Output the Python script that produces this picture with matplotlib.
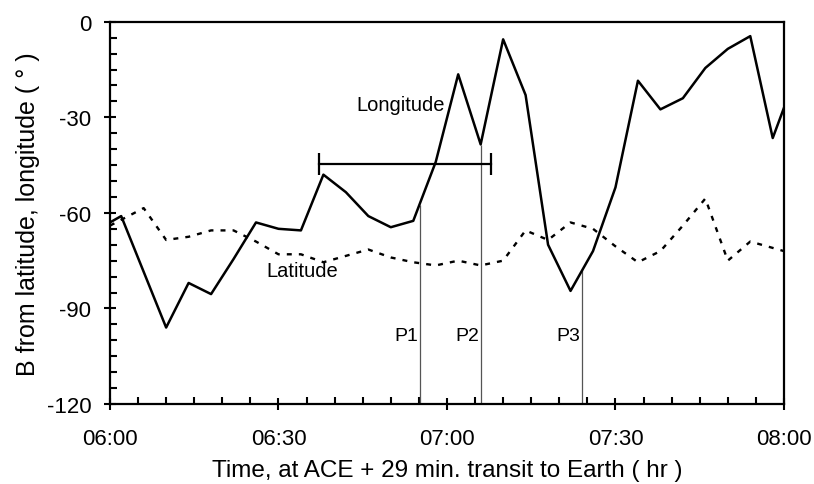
import matplotlib
matplotlib.use("Agg")
import matplotlib.pyplot as plt
from matplotlib.ticker import MultipleLocator, FixedLocator

plt.rcParams['font.family'] = ['Liberation Sans', 'DejaVu Sans']
plt.rcParams['axes.unicode_minus'] = False

# minutes after 06:00
lon_t = [0, 2, 10, 14, 18, 22, 26, 30, 34, 38, 42, 46, 50, 54, 58, 62, 66, 70,
         74, 78, 82, 86, 90, 94, 98, 102, 106, 110, 114, 118, 120]
lon_v = [-63, -61, -96, -82, -85.5, -74.5, -63, -65, -65.5, -48, -53.5, -61,
         -64.5, -62.5, -44, -16.5, -38.5, -5.5, -23, -70, -84.5, -72, -52,
         -18.5, -27.5, -24, -14.5, -8.5, -4.5, -36.5, -27]

lat_t = [0, 6, 10, 14, 18, 22, 26, 30, 34, 38, 42, 46, 50, 54, 58, 62, 66, 70,
         74, 78, 82, 86, 90, 94, 98, 102, 106, 110, 114, 118, 120]
lat_v = [-64, -58.5, -68.5, -67.5, -65.5, -65.5, -69, -73, -73, -75.5, -73.5,
         -71.5, -74, -75.5, -76.5, -75, -76.5, -75, -65.5, -68.5, -63, -65,
         -70.5, -75.5, -72, -64, -55.5, -75, -69, -71, -72]

# interval bar
span_t = [37.3, 67.8]
span_v = -44.5

# markers P1..P3
p_names = ["P1", "P2", "P3"]
p_t = [55.2, 66.0, 84.1]
p_top = [-57.5, -38.6, -77.6]

x_ticks = [0, 30, 60, 90, 120]
x_labels = ["06:00", "06:30", "07:00", "07:30", "08:00"]
y_ticks = [-120, -90, -60, -30, 0]

fig = plt.figure(figsize=(8.14, 4.85), dpi=100)
ax = fig.add_axes([0.1351, 0.165, 0.828, 0.788])

ax.plot(lon_t, lon_v, color='black', lw=1.8, zorder=3)
ax.plot(lat_t, lat_v, color='black', lw=1.7, linestyle=(0, (2.1, 3.0)), zorder=3)

ax.plot(span_t, [span_v, span_v], color='black', lw=1.6, marker='|',
        markersize=16, markeredgewidth=1.6, zorder=3)

ax.vlines(p_t, -120, p_top, color='#555555', lw=0.9, zorder=2)
for name, t in zip(p_names, p_t):
    ax.text(t - 0.3, -98.5, name, ha='right', va='center', fontsize=14)

ax.text(51.8, -26, "Longitude", ha='center', va='center', fontsize=14.5)
ax.text(34.3, -78, "Latitude", ha='center', va='center', fontsize=14.5)

ax.set_xlim(0, 120)
ax.set_ylim(-120, 0)
ax.xaxis.set_major_locator(FixedLocator(x_ticks))
ax.set_xticklabels(x_labels)
ax.xaxis.set_minor_locator(MultipleLocator(5))
ax.yaxis.set_major_locator(FixedLocator(y_ticks))
ax.yaxis.set_minor_locator(MultipleLocator(5))

ax.tick_params(which='major', direction='inout', length=9, width=1.5,
               labelsize=16)
ax.tick_params(axis='x', which='major', pad=13)
ax.tick_params(axis='y', which='major', pad=9)
ax.tick_params(which='minor', direction='in', length=5, width=1.5)
for s in ax.spines.values():
    s.set_linewidth(1.6)

ax.set_xlabel("Time, at ACE + 29 min. transit to Earth ( hr )", fontsize=17.5,
              labelpad=7)
ax.set_ylabel("B from latitude, longitude ( ° )", fontsize=18, labelpad=5)

fig.savefig("out.png", dpi=100)
